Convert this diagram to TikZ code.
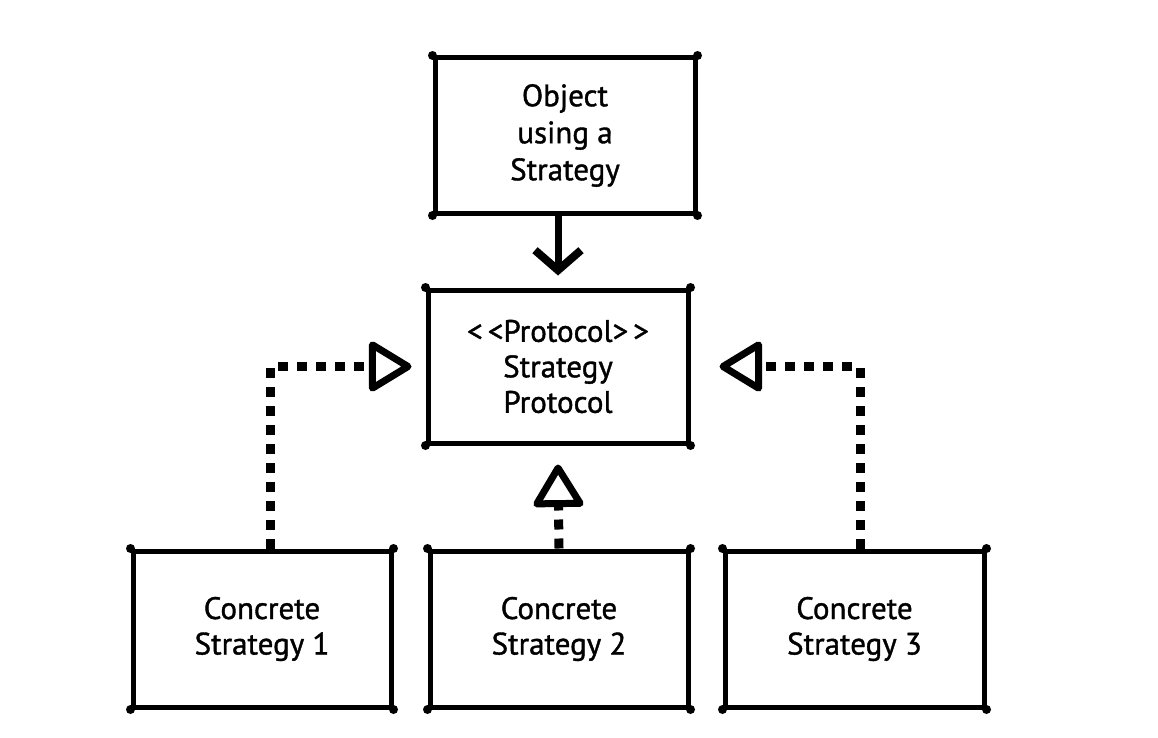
\documentclass[tikz,border=0pt]{standalone}
\usepackage{fontspec}
\setmainfont{PT Sans}
\newfontfamily\handfont{PT Sans}[FakeBold=1.2]
\usetikzlibrary{arrows.meta}
\begin{document}
\begin{tikzpicture}[x=1pt,y=-1pt,
  box/.style={draw=black, line width=5pt, line join=round, fill=white,
    inner sep=0pt, align=center, font=\handfont\fontsize{31}{35.5}\selectfont},
  dep/.style={line width=9pt, dash pattern=on 10pt off 9pt,
    -{Triangle[open, length=46pt, width=54pt, line width=7pt, round]}},
  use/.style={line width=7pt,
    -{Straight Barb[length=20pt, width=46pt, line width=8pt]}},
  blob/.style={fill=black, draw=none}]
\useasboundingbox (0,0) rectangle (1158,738);
\fill[white] (0,0) rectangle (1158,738);

\node[box, minimum width=260pt, minimum height=155pt,
  font=\handfont\fontsize{31}{37}\selectfont] (top) at (565,135.5)
  {Object\\using a\\Strategy};
\node[box, minimum width=260pt, minimum height=153pt] (proto) at (558,366.5)
  {<\kern5pt<Protocol>\kern5pt>\\Strategy\\Protocol};
\node[box, minimum width=258pt, minimum height=156pt] (c1) at (262,629)
  {Concrete\\Strategy 1};
\node[box, minimum width=258pt, minimum height=156pt] (c2) at (559,629)
  {Concrete\\Strategy 2};
\node[box, minimum width=259pt, minimum height=156pt] (c3) at (854.5,629)
  {Concrete\\Strategy 3};

\foreach \n in {top,proto,c1,c2,c3}{
  \foreach \a in {north west,north east,south west,south east}{
    \fill[blob] (\n.\a) circle (4.5pt);
  }
}

\draw[use] ([xshift=-7pt]top.south) -- ([yshift=12pt]proto.north);
\draw[dep] ([xshift=8pt]c1.north) |- ([xshift=-14pt]proto.west);
\draw[dep] ([xshift=5.5pt]c3.north) |- ([xshift=29pt]proto.east);
\draw[dep] (c2.north) -- ([yshift=-19pt]proto.south);
\end{tikzpicture}
\end{document}
